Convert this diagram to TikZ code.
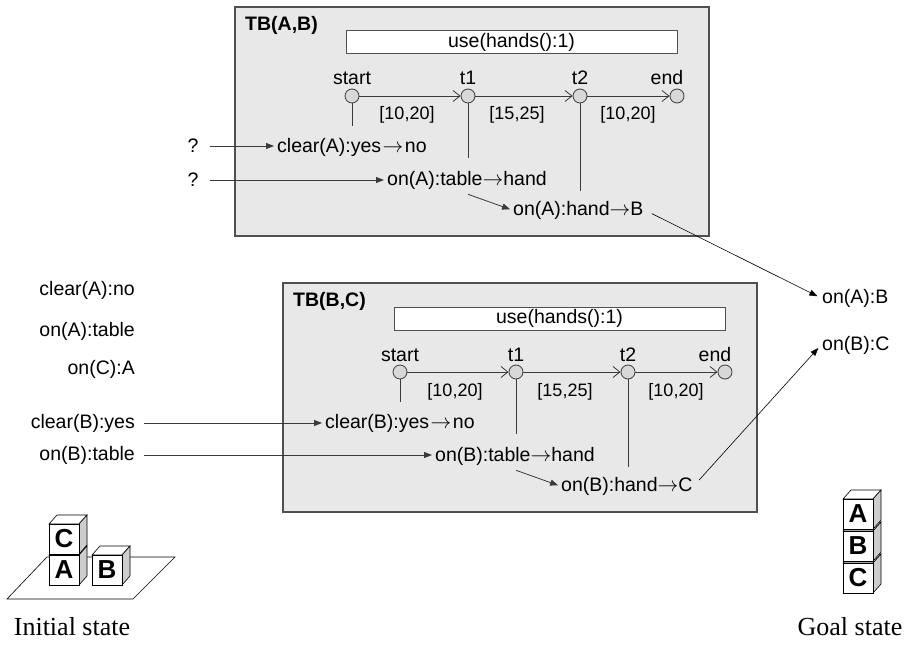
\documentclass[tikz,border=0pt]{standalone}
\usepackage{fontspec}
\setmainfont{Liberation Sans}
\newfontfamily\capfont{Liberation Serif}
\usetikzlibrary{arrows.meta}

\definecolor{panelfill}{HTML}{E8E8E8}
\definecolor{panelline}{HTML}{505050}
\definecolor{pointfill}{HTML}{D8D8D8}
\definecolor{cubeside}{HTML}{CDCDCD}
\definecolor{darkline}{HTML}{3A3A3A}

\tikzset{
  txt/.style={inner sep=1pt, font=\fontsize{19.5}{23}\selectfont},
  ttl/.style={inner sep=1pt, font=\fontsize{19.5}{23}\selectfont\bfseries},
  ivl/.style={inner sep=1pt, font=\fontsize{18}{21}\selectfont},
  panel/.style={draw=panelline, fill=panelfill, line width=1.2pt},
  usebox/.style={draw=panelline, fill=white, line width=1pt, minimum width=331pt,
    minimum height=23pt, inner sep=0pt, font=\fontsize{19.5}{23}\selectfont},
  tpoint/.style={circle, draw=darkline, fill=pointfill, line width=0.8pt,
    minimum size=14pt, inner sep=0pt},
  tline/.style={draw=darkline, line width=0.8pt, -{Straight Barb[length=7pt,width=11pt]}},
  vline/.style={draw=darkline, line width=0.8pt},
  feed/.style={draw=darkline, line width=0.8pt, shorten >=2pt,
    -{Triangle[length=8pt,width=6pt]}},
  link/.style={draw=black, line width=0.6pt, shorten >=4pt,
    -{Triangle[length=8pt,width=6pt]}},
  cubefront/.style={draw=black, fill=white, line width=0.8pt},
  cubetop/.style={draw=black, fill=white, line width=0.6pt},
  cubeface/.style={draw=black, fill=cubeside, line width=0.6pt},
  cubelabel/.style={inner sep=0pt, font=\fontsize{26}{28}\selectfont\bfseries},
  caption/.style={inner sep=0pt, font=\fontsize{26}{30}\selectfont\capfont},
}

% one task block: name prefix, shift, title, moved block, target
\newcommand{\taskblock}[5]{%
  \begin{scope}[shift={#2}]
    \draw[panel] (235,7) rectangle (709,236);
    \node[ttl, anchor=west] (#1-title) at (244,25) {#3};
    \node[usebox] (#1-use) at (511.5,42.5) {use(hands():1)};
    \node[tpoint] (#1-s)  at (352,96) {};
    \node[tpoint] (#1-t1) at (468,96) {};
    \node[tpoint] (#1-t2) at (580,96) {};
    \node[tpoint] (#1-e)  at (677,96) {};
    \node[txt, anchor=base] (#1-ls)  at (352,85) {start};
    \node[txt, anchor=base] (#1-lt1) at (468,85) {t1};
    \node[txt, anchor=base] (#1-lt2) at (580,85) {t2};
    \node[txt, anchor=base] (#1-le)  at (667,85) {end};
    \draw[tline] (#1-s) -- (#1-t1);
    \draw[tline] (#1-t1) -- (#1-t2);
    \draw[tline] (#1-t2) -- (#1-e);
    \node[ivl, anchor=base] (#1-i1) at (407,120) {[10,20]};
    \node[ivl, anchor=base] (#1-i2) at (517,120) {[15,25]};
    \node[ivl, anchor=base] (#1-i3) at (628,120) {[10,20]};
    \draw[vline] (#1-s.south) -- ++(0,23);
    \draw[vline] (#1-t1.south) -- ++(0,55);
    \draw[vline] (#1-t2.south) -- ++(0,88);
    \node[txt, anchor=west] (#1-clr) at (276,147) {clear(#4):yes\kern1.5pt$\rightarrow$\kern1.5pt no};
    \node[txt, anchor=west] (#1-tab) at (386,180) {on(#4):table$\rightarrow$hand};
    \node[txt, anchor=west] (#1-hnd) at (512,210) {on(#4):hand$\rightarrow$#5};
    \draw[feed] ([yshift=-4pt]#1-tab.south -| #1-t1) -- (#1-hnd.west);
  \end{scope}}

% a cube seen slightly from above and right: name, front corner, size, letter
\newcommand{\blockcube}[5]{%
  \draw[cubetop] (#2,#3) -- ++(8,-9) -- ++(#4,0) -- ++(-8,9) -- cycle;
  \draw[cubeface] (#2+#4,#3) -- ++(8,-9) -- ++(0,#4) -- ++(-8,9) -- cycle;
  \draw[cubefront] (#2,#3) rectangle ++(#4,#4);
  \node[cubelabel] (#1) at (#2+#4/2,#3+#4/2) {#5};}

\begin{document}
\begin{tikzpicture}[x=1pt,y=-1pt]
  \useasboundingbox (0,0) rectangle (904,647);

  \taskblock{a}{(0,0)}{TB(A,B)}{A}{B}
  \taskblock{b}{(48,276)}{TB(B,C)}{B}{C}

  % open inputs of the first block
  \node[txt] (q1) at (193,146) {?};
  \node[txt] (q2) at (193,180) {?};
  \draw[feed, shorten <=10pt] (q1.east) -- (q1.east -| a-clr.west);
  \draw[feed, shorten <=10pt] (q2.east) -- (q2.east -| a-tab.west);

  % initial state facts
  \node[txt, anchor=east] (f1) at (136,290) {clear(A):no};
  \node[txt, anchor=east] (f2) at (136,331) {on(A):table};
  \node[txt, anchor=east] (f3) at (136,369) {on(C):A};
  \node[txt, anchor=east] (f4) at (136,423) {clear(B):yes};
  \node[txt, anchor=east] (f5) at (136,455) {on(B):table};
  \draw[feed, shorten <=8pt] (f4.east) -- (f4.east -| b-clr.west);
  \draw[feed, shorten <=8pt] (f5.east) -- (f5.east -| b-tab.west);

  % goal facts
  \node[txt, anchor=west] (g1) at (821,298) {on(A):B};
  \node[txt, anchor=west] (g2) at (821,345) {on(B):C};
  \draw[link, shorten <=8pt] (a-hnd.east) -- (g1.west);
  \draw[link, shorten <=8pt] (b-hnd.east) -- (g2.west);

  % initial state: table with C on A, and B
  \draw[cubetop] (7,599) -- (133,599) -- (175,557) -- (47,557) -- cycle;
  \blockcube{ca}{49}{555}{30}{A}
  \blockcube{cc}{49}{524}{30}{C}
  \blockcube{cb}{92}{555}{30}{B}
  \node[caption] (cap1) at (72,627) {Initial state};

  % goal state: A on B on C
  \blockcube{gc}{843}{563}{30}{C}
  \blockcube{gb}{843}{531}{30}{B}
  \blockcube{ga}{843}{499}{30}{A}
  \node[caption] (cap2) at (850,627) {Goal state};
\end{tikzpicture}
\end{document}
